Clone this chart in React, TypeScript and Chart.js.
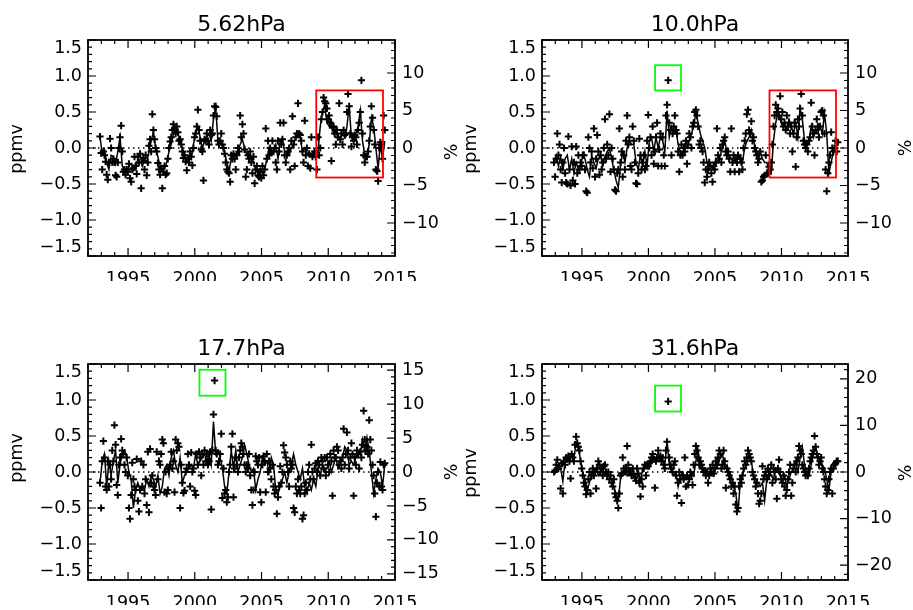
import React, { useEffect, useRef } from 'react';
import { Chart, registerables } from 'chart.js';

Chart.register(...registerables);

// ---------------- data ----------------
// time grid: monthly scatter and bi-monthly line, both starting at 1992.9
const SERIES_START = 1992.9;
const SCATTER_STEP = 1 / 12;
const LINE_STEP = 1 / 6;

const X_MIN = 1992;
const X_MAX = 2015;
const X_MAJOR = 5;
const PPMV_MIN = -1.5;
const PPMV_MAX = 1.5;

const TITLES = ['5.62hPa', '10.0hPa', '17.7hPa', '31.6hPa'];
const PCT_RANGE = [14.4, 14.4, 15.9, 23.2];
const PCT_MAJOR = [5, 5, 5, 10];
const PCT_MINOR = [1, 1, 1, 2];

// 5.62 hPa
const line562 = [
  0.16, -0.08, -0.02, -0.2, -0.3, -0.1,
  -0.12, -0.22, -0.05, 0.15, -0.25, -0.3,
  -0.32, -0.25, -0.22, -0.27, -0.3, -0.15,
  -0.1, -0.25, -0.15, -0.2, -0.05, 0.1,
  0.22, 0.0, -0.12, -0.25, -0.3, -0.28,
  -0.2, -0.05, 0.05, 0.2, 0.27, 0.2,
  0.1, 0.0, -0.1, -0.18, -0.1, -0.15,
  0.05, 0.2, 0.3, 0.15, 0.0, 0.1,
  0.15, 0.2, 0.1, 0.4, 0.57, 0.1,
  0.08, 0.05, -0.05, -0.2, -0.32, -0.15,
  -0.1, -0.12, -0.05, 0.05, 0.12, 0.0,
  -0.1, -0.15, -0.12, -0.2, -0.3, -0.32,
  -0.28, -0.35, -0.3, -0.15, 0.0, -0.1,
  -0.05, 0.05, -0.15, 0.1, 0.12, -0.05,
  -0.05, -0.1, 0.0, 0.05, 0.15, 0.2,
  0.15, -0.05, 0.0, -0.08, -0.05, -0.12,
  -0.05, -0.1, -0.05, 0.3, 0.5, 0.6,
  0.35, 0.3, 0.38, 0.2, 0.25, 0.12,
  0.15, 0.2, 0.15, 0.3, 0.58, 0.15,
  0.1, 0.2, 0.3, 0.52, 0.1, -0.1,
  -0.1, 0.05, 0.42, 0.3, 0.0, -0.28,
  0.05, -0.15, 0.1,
];
const scatter562 = [
  0.16, -0.07, -0.3, -0.05, -0.1, -0.19, -0.37, -0.44, -0.2, 0.13, 0.0, -0.2,
  -0.15, -0.2, -0.38, -0.4, -0.2, 0.0, 0.15, 0.31, -0.05, -0.33, -0.3, -0.37,
  -0.3, -0.33, -0.22, -0.42, -0.47, -0.3, -0.28, -0.12, -0.25, -0.36, -0.12, -0.2,
  -0.08, -0.56, -0.2, -0.14, -0.3, -0.1, -0.38, -0.2, 0.03, 0.12, -0.05, 0.47,
  0.25, 0.12, 0.0, -0.05, -0.21, -0.3, -0.37, -0.28, -0.56, -0.33, -0.25, -0.37,
  -0.35, -0.15, 0.0, 0.09, 0.15, 0.25, 0.33, 0.27, 0.2, 0.3, 0.22, 0.1,
  0.12, 0.05, -0.05, -0.14, -0.1, -0.19, -0.31, -0.15, -0.2, -0.05, -0.12, -0.24,
  0.0, 0.15, 0.2, 0.3, 0.53, 0.25, 0.1, -0.02, -0.05, -0.45, 0.12, 0.1,
  0.2, 0.1, 0.05, 0.25, 0.18, 0.2, 0.45, 0.58, 0.57, 0.44, 0.1, 0.05,
  0.1, 0.2, 0.05, 0.0, -0.08, -0.2, -0.3, -0.33, -0.35, -0.47, -0.1, -0.15,
  -0.08, -0.15, -0.3, -0.1, 0.0, -0.05, 0.45, 0.15, 0.33, 0.2, -0.02, -0.4,
  -0.3, -0.1, -0.15, -0.05, -0.2, -0.35, -0.12, -0.49, -0.3, -0.25, -0.38, -0.4,
  -0.33, -0.42, -0.25, -0.38, -0.3, 0.27, -0.15, 0.1, -0.1, 0.0, -0.05, 0.1,
  -0.05, 0.0, -0.2, -0.3, 0.1, -0.05, 0.35, 0.05, 0.12, 0.35, -0.1, -0.2,
  -0.1, -0.05, 0.0, -0.3, 0.1, 0.44, 0.05, -0.25, 0.15, 0.2, 0.62, 0.2,
  0.18, 0.1, -0.05, -0.2, 0.38, -0.1, 0.0, -0.25, -0.08, -0.28, 0.15, -0.12,
  -0.08, -0.05, -0.12, -0.3, 0.15, -0.1, 0.0, 0.4, 0.5, 0.7, 0.65, 0.62,
  0.55, 0.4, 0.45, 0.35, -0.18, 0.28, 0.3, 0.2, 0.05, 0.25, 0.15, 0.62,
  0.12, 0.2, 0.05, 0.25, 0.18, 0.2, 0.5, 0.75, 0.58, 0.2, 0.02, 0.15,
  0.1, 0.18, 0.15, 0.05, 0.25, 0.35, 0.5, 0.94, 0.2, -0.1, -0.2, -0.12,
  -0.12, -0.05, 0.1, 0.3, 0.58, 0.42, 0.25, 0.05, -0.3, -0.32, -0.46, 0.0,
  0.08, 0.05, -0.15, 0.45, 0.25,
];
const boxes562 = [{ x0: 2009.1, x1: 2014.1, y0: -0.41, y1: 0.8, color: '#ff0000' }];

// 10.0 hPa
const line100 = [
  -0.18, -0.1, -0.25, -0.12, -0.3, -0.15,
  -0.1, -0.3, -0.15, -0.35, -0.2, -0.3,
  -0.25, -0.1, -0.15, -0.3, -0.4, -0.1,
  -0.2, -0.28, -0.15, -0.1, -0.25, -0.12,
  -0.05, 0.0, -0.15, -0.3, -0.45, -0.55,
  -0.25, -0.05, -0.2, 0.0, 0.1, 0.05,
  0.05, -0.2, -0.3, -0.1, -0.25, -0.05,
  -0.25, 0.1, 0.15, -0.05, 0.15, 0.0,
  0.15, 0.1, -0.05, 0.52, 0.15, 0.3,
  0.2, 0.25, 0.05, -0.05, -0.1, 0.05,
  0.0, 0.1, 0.2, 0.3, 0.5, 0.35,
  0.2, 0.1, 0.0, -0.2, -0.3, -0.25,
  -0.3, -0.15, -0.2, -0.1, 0.0, 0.1,
  -0.05, -0.1, -0.15, -0.2, -0.1, -0.15,
  -0.1, -0.2, 0.0, 0.1, 0.15, 0.25,
  0.1, 0.0, -0.1, -0.05, -0.15, -0.2,
  -0.2, -0.3, -0.35, 0.1, 0.35, 0.5,
  0.4, 0.3, 0.35, 0.25, 0.4, 0.3,
  0.2, 0.35, 0.15, 0.55, 0.4, 0.1,
  0.05, 0.1, 0.3, 0.15, 0.25, 0.2,
  0.3, 0.2, 0.48, 0.2, -0.35, -0.2,
  -0.05, 0.0, 0.05,
];
const scatter100 = [
  -0.2, -0.4, -0.15, 0.2, -0.1, 0.05, -0.3, -0.48, -0.2, 0.0, -0.35, -0.48,
  -0.5, 0.16, -0.3, -0.52, 0.02, -0.45, -0.2, -0.5, 0.02, -0.35, -0.1, -0.3,
  -0.2, -0.25, -0.1, -0.1, -0.3, -0.6, -0.62, 0.15, 0.0, -0.2, -0.05, -0.28,
  0.27, -0.4, -0.15, 0.18, -0.05, -0.37, -0.1, -0.3, -0.2, 0.0, 0.4, -0.15,
  0.05, -0.1, 0.47, -0.33, 0.0, -0.15, -0.3, -0.58, -0.6, -0.35, -0.3, 0.27,
  -0.2, -0.05, -0.4, -0.1, -0.3, 0.1, 0.45, 0.05, 0.15, -0.25, -0.3, 0.3,
  0.1, -0.2, -0.49, -0.5, -0.35, 0.13, -0.1, -0.3, -0.2, -0.1, -0.3, -0.25,
  0.1, 0.46, 0.0, 0.15, -0.1, 0.3, -0.22, -0.05, 0.15, 0.35, -0.25, -0.02,
  0.2, -0.25, 0.15, -0.1, -0.25, 0.45, 0.6, 0.94, 0.35, 0.25, -0.1, 0.2,
  0.3, 0.45, 0.25, 0.2, -0.05, -0.33, -0.1, 0.05, -0.1, 0.0, -0.05, 0.1,
  -0.22, 0.05, 0.2, 0.15, 0.0, 0.3, 0.35, 0.5, 0.53, 0.45, 0.3, 0.05,
  0.1, 0.0, -0.05, -0.2, -0.48, -0.3, -0.4, -0.3, -0.2, -0.25, -0.35, -0.47,
  -0.25, -0.3, -0.2, 0.27, -0.1, -0.15, 0.0, -0.2, 0.05, 0.1, 0.15, -0.05,
  -0.1, -0.05, -0.15, -0.33, 0.27, -0.2, -0.1, -0.33, -0.15, -0.2, -0.1, -0.33,
  -0.15, -0.2, -0.3, 0.0, 0.1, 0.2, 0.47, 0.53, 0.25, 0.2, 0.37, 0.1,
  0.15, 0.0, -0.05, -0.1, -0.2, -0.15, -0.05, -0.47, -0.45, -0.4, -0.38, -0.1,
  -0.36, -0.35, -0.26, -0.3, -0.2, 0.05, 0.3, 0.45, 0.6, 0.5, 0.55, 0.45,
  0.72, 0.4, 0.5, 0.3, 0.35, 0.25, 0.45, 0.3, 0.35, 0.2, 0.3, -0.05,
  0.2, 0.35, -0.26, 0.15, 0.4, 0.3, 0.55, 0.75, 0.45, 0.1, 0.05, 0.0,
  0.05, -0.05, 0.1, 0.15, 0.63, 0.3, 0.2, -0.1, 0.25, 0.4, 0.3, 0.15,
  0.3, 0.5, 0.52, 0.45, 0.2, -0.3, -0.6, -0.35, -0.2, -0.1, 0.22, 0.0,
  -0.05, 0.0, 0.1, -0.05, 0.08,
];
const boxes100 = [
  { x0: 2000.5, x1: 2002.45, y0: 0.8, y1: 1.15, color: '#00ff00' },
  { x0: 2009.1, x1: 2014.1, y0: -0.41, y1: 0.8, color: '#ff0000' },
];

// 17.7 hPa
const line177 = [
  -0.15, 0.15, 0.25, -0.2, 0.15, -0.05,
  0.15, 0.3, -0.15, 0.1, 0.25, 0.3,
  0.2, 0.0, -0.1, -0.5, -0.25, -0.15,
  -0.25, -0.2, -0.25, -0.1, -0.2, -0.05,
  -0.1, -0.2, -0.05, -0.3, -0.2, 0.05,
  0.1, -0.05, 0.2, 0.3, 0.1, 0.0,
  0.2, -0.15, -0.05, 0.0, 0.05, 0.1,
  0.05, 0.25, 0.1, 0.15, 0.2, 0.25,
  0.15, 0.25, 0.1, 0.7, 0.25, 0.3,
  0.2, 0.05, -0.2, -0.3, 0.0, 0.3,
  0.05, 0.3, 0.0, 0.1, 0.2, 0.37,
  0.25, 0.1, 0.0, 0.05, -0.25, -0.1,
  0.0, 0.2, 0.1, 0.15, 0.0, 0.2,
  0.1, -0.25, -0.3, -0.2, -0.1, 0.0,
  -0.15, 0.0, 0.1, 0.25, 0.1, 0.0,
  -0.1, 0.05, -0.2, -0.3, -0.15, -0.25,
  -0.1, -0.2, 0.05, -0.05, 0.1, 0.0,
  0.05, 0.15, 0.0, 0.1, 0.2, 0.05,
  0.1, 0.2, 0.35, 0.3, 0.1, 0.15,
  0.1, 0.2, 0.3, 0.25, 0.45, 0.3,
  0.48, 0.3, 0.0, -0.3, -0.1, 0.05,
  0.0, -0.2, 0.1,
];
const scatter177 = [
  -0.15, -0.5, 0.15, 0.43, 0.2, -0.2, -0.25, 0.15, -0.2, 0.1, -0.1, 0.3,
  0.15, 0.65, 0.38, -0.18, -0.32, 0.1, 0.2, 0.46, 0.3, 0.25, 0.1, 0.0,
  0.2, -0.05, -0.5, -0.65, -0.32, 0.13, -0.1, -0.2, -0.25, 0.18, -0.4, -0.55,
  -0.25, 0.15, -0.2, 0.1, -0.3, -0.1, -0.46, 0.28, -0.56, 0.32, -0.15, -0.05,
  -0.2, -0.25, -0.32, 0.28, -0.1, 0.15, 0.1, 0.25, 0.45, 0.4, -0.28, 0.0,
  -0.3, -0.25, 0.05, 0.1, 0.28, 0.05, 0.15, -0.28, 0.45, 0.3, 0.4, 0.35,
  -0.5, 0.1, -0.15, -0.29, -0.26, 0.0, 0.05, 0.25, 0.1, -0.2, 0.27, 0.0,
  0.05, -0.26, -0.32, 0.25, 0.1, 0.28, 0.2, -0.05, 0.25, 0.1, 0.3, 0.15,
  0.25, 0.1, 0.15, 0.28, -0.52, 0.3, 0.8, 1.27, 0.3, 0.25, 0.1, 0.15,
  0.25, 0.53, -0.36, 0.05, -0.3, -0.25, -0.42, -0.35, 0.0, 0.1, 0.35, 0.53,
  -0.35, 0.05, 0.2, 0.1, 0.0, 0.2, 0.3, 0.4, 0.35, 0.25, 0.1, 0.0,
  0.1, 0.05, 0.25, -0.05, -0.25, -0.46, -0.25, 0.0, 0.22, 0.15, 0.1, 0.2,
  -0.28, -0.42, 0.1, 0.22, 0.15, -0.28, 0.25, 0.0, 0.15, 0.05, -0.1, 0.1,
  -0.2, -0.3, -0.25, -0.58, -0.35, -0.2, 0.08, -0.15, 0.0, 0.37, 0.27, 0.2,
  0.1, 0.0, -0.2, 0.15, 0.05, 0.1, -0.5, -0.56, -0.2, -0.3, -0.1, -0.25,
  -0.3, -0.2, -0.65, -0.6, -0.3, -0.15, -0.25, 0.0, 0.1, -0.1, 0.38, 0.0,
  -0.1, 0.05, 0.12, 0.0, 0.15, 0.1, -0.05, 0.2, 0.15, 0.05, 0.2, -0.05,
  0.2, 0.1, 0.0, 0.25, 0.15, -0.33, 0.3, 0.2, 0.2, 0.35, 0.3, 0.1,
  0.15, 0.05, 0.2, 0.6, 0.1, 0.25, 0.55, 0.3, 0.05, 0.2, 0.4, 0.25,
  -0.33, 0.2, 0.1, 0.3, 0.25, 0.05, 0.28, 0.2, 0.38, 0.85, 0.45, 0.3,
  0.35, 0.25, 0.72, 0.45, 0.3, 0.1, -0.05, -0.3, -0.62, -0.15, 0.0, -0.2,
  0.14, -0.2, -0.25, 0.1, 0.12,
];
const boxes177 = [{ x0: 2000.35, x1: 2002.3, y0: 1.06, y1: 1.42, color: '#00ff00' }];

// 31.6 hPa
const line316 = [
  0.0, 0.05, 0.1, 0.05, -0.13, 0.15,
  0.2, 0.15, 0.25, 0.2, 0.4, 0.35,
  0.15, 0.0, -0.1, -0.25, -0.15, 0.0,
  -0.05, 0.05, -0.05, 0.0, 0.05, -0.05,
  0.0, -0.05, -0.1, -0.2, -0.3, -0.38,
  -0.1, 0.0, 0.05, -0.05, 0.0, 0.02,
  -0.05, -0.1, 0.0, -0.12, 0.05, 0.1,
  0.1, 0.05, 0.15, 0.2, 0.15, 0.22,
  0.2, 0.15, 0.1, 0.43, 0.1, 0.0,
  -0.05, 0.0, -0.2, -0.05, 0.0, -0.1,
  -0.05, -0.1, 0.0, -0.05, 0.15, 0.3,
  0.1, 0.05, 0.0, 0.02, -0.05, 0.0,
  -0.05, 0.05, 0.1, 0.2, 0.25, 0.05,
  0.1, 0.0, -0.05, -0.2, -0.3, -0.55,
  -0.15, -0.05, 0.05, 0.1, 0.25, 0.15,
  -0.05, -0.1, -0.15, -0.2, -0.15, -0.4,
  -0.1, 0.0, -0.05, -0.1, 0.05, 0.0,
  -0.05, -0.15, -0.05, -0.2, -0.1, 0.0,
  0.05, 0.15, 0.0, 0.2, 0.35, 0.1,
  0.0, -0.05, 0.1, 0.25, 0.35, 0.2,
  0.2, 0.1, 0.05, -0.1, -0.25, 0.0,
  0.05, 0.1, 0.15,
];
const scatter316 = [
  0.0, 0.02, 0.1, 0.17, 0.05, 0.08, -0.23, 0.12, -0.3, 0.15, 0.1, 0.2,
  0.18, 0.22, 0.15, -0.09, 0.25, 0.2, 0.15, 0.38, 0.49, 0.4, 0.35, 0.3,
  0.15, 0.05, -0.05, -0.15, -0.2, -0.31, -0.25, -0.1, 0.0, -0.3, -0.05, 0.05,
  -0.05, 0.0, -0.23, 0.05, 0.15, 0.1, 0.0, 0.05, -0.05, 0.08, 0.1, 0.0,
  -0.05, 0.0, -0.1, -0.05, -0.15, -0.2, -0.1, -0.3, -0.35, -0.4, -0.5, -0.3,
  -0.05, -0.02, 0.2, 0.05, 0.0, 0.05, 0.36, 0.1, 0.0, 0.02, -0.05, 0.05,
  -0.03, -0.08, -0.12, 0.05, -0.02, -0.15, -0.34, -0.1, -0.2, 0.05, 0.1, -0.05,
  0.1, 0.08, 0.12, 0.15, 0.2, 0.25, 0.18, -0.22, 0.15, 0.2, 0.3, 0.2,
  0.22, 0.15, 0.2, 0.1, 0.05, 0.3, 0.42, 0.98, 0.2, 0.1, 0.05, 0.0,
  0.1, 0.15, -0.05, -0.33, -0.15, 0.0, -0.1, -0.43, -0.05, -0.1, 0.2, -0.2,
  -0.05, -0.18, -0.1, 0.0, -0.05, -0.18, 0.1, 0.25, 0.36, 0.3, 0.2, 0.1,
  0.15, 0.1, 0.05, 0.0, 0.02, -0.05, 0.0, -0.15, -0.05, 0.05, 0.0, 0.1,
  -0.02, 0.05, 0.15, 0.1, 0.2, 0.3, 0.25, 0.05, 0.1, 0.3, 0.15, -0.22,
  0.05, 0.0, -0.05, -0.1, -0.2, -0.15, -0.3, -0.2, -0.45, -0.55, -0.5, -0.2,
  -0.1, -0.15, -0.05, 0.05, 0.15, 0.1, 0.2, 0.3, 0.25, 0.2, 0.15, 0.0,
  -0.05, -0.1, -0.2, -0.15, -0.3, -0.44, -0.4, -0.3, 0.08, -0.1, -0.05, 0.0,
  -0.1, 0.05, -0.05, 0.0, 0.1, -0.15, 0.05, 0.0, -0.1, -0.37, 0.05, 0.17,
  0.0, -0.1, -0.15, -0.05, -0.2, -0.33, -0.25, -0.1, 0.0, 0.1, -0.33, -0.15,
  0.05, 0.1, 0.0, 0.15, 0.2, 0.36, 0.3, 0.25, 0.1, 0.05, 0.0, -0.05,
  0.0, -0.05, 0.05, 0.15, 0.2, 0.25, 0.3, 0.5, 0.35, 0.25, 0.2, 0.1,
  0.15, 0.2, 0.05, 0.0, -0.1, -0.2, -0.3, -0.25, -0.1, 0.0, 0.05, -0.3,
  0.05, 0.1, 0.12, 0.15, 0.15,
];
const boxes316 = [{ x0: 2000.5, x1: 2002.45, y0: 0.84, y1: 1.2, color: '#00ff00' }];

// ---------------- layout ----------------
const W = 913;
const H = 610;
const LEFT_W = 70;
const RIGHT_W = 60;
const X_H = 25;
const FONT = '"DejaVu Sans", sans-serif';

const PANELS = [
  { i: 0, line: line562, scatter: scatter562, boxes: boxes562, area: [88, 40, 395, 256], ppmv: [17, 149], pct: [452, 152] },
  { i: 1, line: line100, scatter: scatter100, boxes: boxes100, area: [542, 40, 848, 256], ppmv: [471, 149], pct: [906, 148] },
  { i: 2, line: line177, scatter: scatter177, boxes: boxes177, area: [88, 364, 395, 580], ppmv: [17, 458], pct: [452, 472] },
  { i: 3, line: line316, scatter: scatter316, boxes: boxes316, area: [542, 364, 848, 580], ppmv: [471, 473], pct: [906, 473] },
];

const minus = (s: string) => s.replace('-', '\u2212');

const idlPlugin = {
  id: 'idl',
  beforeDatasetsDraw(chart: any) {
    const { ctx, chartArea: a, scales } = chart;
    const y0 = scales.y.getPixelForValue(0);
    ctx.save();
    ctx.strokeStyle = '#000';
    ctx.lineWidth = 1.3;
    ctx.setLineDash([1.5, 3.5]);
    ctx.beginPath();
    ctx.moveTo(a.left, y0);
    ctx.lineTo(a.right, y0);
    ctx.stroke();
    ctx.restore();
  },
  afterDatasetsDraw(chart: any, _args: any, o: any) {
    const { ctx, chartArea: a, scales } = chart;
    const x = scales.x, y = scales.y, y2 = scales.y2;
    ctx.save();
    // boxes
    ctx.lineWidth = 1.8;
    for (const b of o.boxes) {
      ctx.strokeStyle = b.color;
      const px0 = x.getPixelForValue(b.x0), px1 = x.getPixelForValue(b.x1);
      const py0 = y.getPixelForValue(b.y0), py1 = y.getPixelForValue(b.y1);
      ctx.strokeRect(px0, py1, px1 - px0, py0 - py1);
    }
    // frame
    ctx.strokeStyle = '#000';
    ctx.lineWidth = 1.8;
    ctx.strokeRect(a.left, a.top, a.right - a.left, a.bottom - a.top);
    // ticks
    ctx.lineWidth = 1.2;
    ctx.beginPath();
    for (let k = X_MIN; k <= X_MAX; k++) {
      const px = x.getPixelForValue(k);
      const len = k % X_MAJOR === 0 ? 8 : 4;
      ctx.moveTo(px, a.bottom); ctx.lineTo(px, a.bottom - len);
      ctx.moveTo(px, a.top); ctx.lineTo(px, a.top + len);
    }
    for (let k = -15; k <= 15; k++) {
      const py = y.getPixelForValue(k / 10);
      const len = k % 5 === 0 ? 8 : 4;
      ctx.moveTo(a.left, py); ctx.lineTo(a.left + len, py);
    }
    const r = o.pctRange, mj = o.pctMajor, mn = o.pctMinor;
    for (let k = Math.ceil(-r / mn); k <= Math.floor(r / mn); k++) {
      const v = k * mn;
      const py = y2.getPixelForValue(v);
      const len = v % mj === 0 ? 8 : 4;
      ctx.moveTo(a.right, py); ctx.lineTo(a.right - len, py);
    }
    ctx.stroke();
    // texts
    ctx.fillStyle = '#000';
    ctx.font = `22px ${FONT}`;
    ctx.textAlign = 'center';
    ctx.textBaseline = 'alphabetic';
    ctx.fillText(o.title, (a.left + a.right) / 2, a.top - 9.5);
    ctx.font = `17.5px ${FONT}`;
    ctx.textBaseline = 'middle';
    const rot = (text: string, px: number, py: number) => {
      ctx.save();
      ctx.translate(px, py);
      ctx.rotate(-Math.PI / 2);
      ctx.fillText(text, 0, 0);
      ctx.restore();
    };
    rot(o.yTitle, o.ppmv[0], o.ppmv[1]);
    rot(o.y2Title, o.pct[0], o.pct[1]);
    ctx.restore();
  },
};

function Panel({ p }: { p: any }) {
  const ref = useRef<HTMLCanvasElement>(null);
  useEffect(() => {
    const [L, T, R, B] = p.area;
    const lineData = p.line.map((v: number, k: number) => ({ x: SERIES_START + k * LINE_STEP, y: v }));
    const scatterData = p.scatter.map((v: number, k: number) => ({ x: SERIES_START + k * SCATTER_STEP, y: v }));
    const r = PCT_RANGE[p.i];
    const chart = new Chart(ref.current as HTMLCanvasElement, {
      type: 'scatter',
      data: {
        datasets: [
          {
            type: 'line',
            label: 'smoothed',
            data: lineData,
            borderColor: '#000',
            borderWidth: 1.5,
            pointRadius: 0,
            tension: 0,
            fill: false,
            yAxisID: 'y',
          } as any,
          {
            type: 'scatter',
            label: 'monthly',
            data: scatterData,
            pointStyle: 'cross',
            pointRadius: 3.6,
            borderColor: '#000',
            backgroundColor: '#000',
            pointBorderWidth: 2,
            borderWidth: 2,
            showLine: false,
            yAxisID: 'y',
          } as any,
        ],
      },
      options: {
        responsive: false,
        animation: false,
        devicePixelRatio: 1,
        events: [],
        layout: { padding: { left: L - LEFT_W, right: W - R - RIGHT_W, top: T, bottom: H - B - X_H } },
        plugins: {
          legend: { display: false },
          tooltip: { enabled: false },
          title: { display: false },
          idl: {
            title: TITLES[p.i],
            yTitle: 'ppmv',
            y2Title: '%',
            boxes: p.boxes,
            pctRange: r,
            pctMajor: PCT_MAJOR[p.i],
            pctMinor: PCT_MINOR[p.i],
            ppmv: p.ppmv,
            pct: p.pct,
          },
        } as any,
        scales: {
          x: {
            type: 'linear',
            position: 'bottom',
            min: X_MIN,
            max: X_MAX,
            grid: { display: false, drawTicks: false },
            border: { display: false },
            afterFit: (s: any) => { s.height = X_H; },
            ticks: {
              stepSize: X_MAJOR,
              includeBounds: false,
              autoSkip: false,
              maxRotation: 0,
              padding: 13,
              color: '#000',
              font: { family: FONT, size: 17.5 },
              callback: (v: any) => String(v),
            },
          },
          y: {
            type: 'linear',
            position: 'left',
            min: PPMV_MIN,
            max: PPMV_MAX,
            grid: { display: false, drawTicks: false },
            border: { display: false },
            afterFit: (s: any) => { s.width = LEFT_W; },
            ticks: {
              stepSize: 0.5,
              includeBounds: false,
              autoSkip: false,
              padding: 6,
              color: '#000',
              font: { family: FONT, size: 17.5, lineHeight: 1.0 },
              callback: (v: any) => {
                const n = Number(v);
                const s = minus(n.toFixed(1)).replace('\u22120.0', '0.0');
                if (n > PPMV_MAX - 0.01) return ['\u00a0', s];
                if (n < PPMV_MIN + 0.01) return [s, '\u00a0'];
                return s;
              },
            },
          },
          y2: {
            type: 'linear',
            position: 'right',
            min: -r,
            max: r,
            grid: { display: false, drawTicks: false },
            border: { display: false },
            afterFit: (s: any) => { s.width = RIGHT_W; },
            ticks: {
              stepSize: PCT_MAJOR[p.i],
              includeBounds: false,
              autoSkip: false,
              padding: 7,
              color: '#000',
              font: { family: FONT, size: 17.5 },
              callback: (v: any) => minus(String(Math.round(v))),
            },
          },
        },
      } as any,
      plugins: [idlPlugin],
    });
    return () => chart.destroy();
  }, [p]);
  return (
    <canvas
      ref={ref}
      width={W}
      height={H}
      style={{ position: 'absolute', left: 0, top: 0, width: W, height: H }}
    />
  );
}

export default function App() {
  return (
    <div style={{ position: 'absolute', left: 0, top: 0, width: W, height: H, background: '#fff', overflow: 'hidden' }}>
      {PANELS.map((p) => (
        <Panel key={p.i} p={p} />
      ))}
    </div>
  );
}
